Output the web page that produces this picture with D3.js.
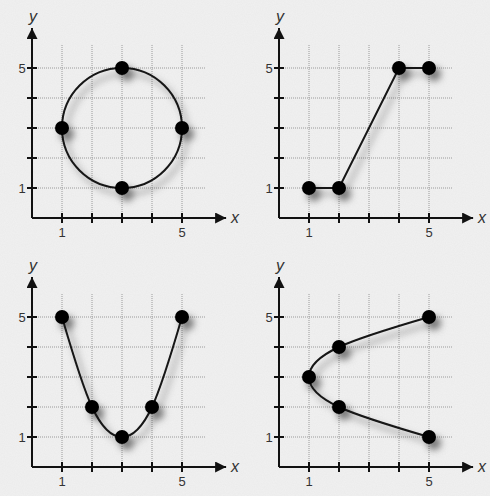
<!DOCTYPE html>
<html>
<head>
<meta charset="utf-8">
<script src="https://cdn.jsdelivr.net/npm/d3@7"></script>
<style>
  body { margin: 0; background: #f0f0f0; }
  svg { display: block; }
</style>
</head>
<body>
<div id="container"></div>
<script>
/* 1. DATA */
const tickValues = [1, 2, 3, 4, 5];
const tickLabels = ["1", "", "", "", "5"];

const circlePts = [{x: 3, y: 5}, {x: 5, y: 3}, {x: 3, y: 1}, {x: 1, y: 3}];
const stepPts = [{x: 1, y: 1}, {x: 2, y: 1}, {x: 4, y: 5}, {x: 5, y: 5}];
const parabolaPts = [{x: 1, y: 5}, {x: 2, y: 2}, {x: 3, y: 1}, {x: 4, y: 2}, {x: 5, y: 5}];
const sidewaysPts = [{x: 5, y: 5}, {x: 2, y: 4}, {x: 1, y: 3}, {x: 2, y: 2}, {x: 5, y: 1}];

/* 2. LAYOUT */
const width = 490, height = 496;
const unit = 30;
const gridMax = 5.77, xArrowMax = 6.47, yArrowMax = 6.33;

const panels = [
  {pts: circlePts,   curve: d3.curveCardinalClosed.tension(-0.657), ox: 32,  oy: 218},
  {pts: stepPts,     curve: d3.curveLinear,  ox: 279, oy: 218},
  {pts: parabolaPts, curve: d3.curveNatural, ox: 32,  oy: 467},
  {pts: sidewaysPts, curve: d3.curveNatural, ox: 279, oy: 467}
];

const xScale = d3.scaleLinear().domain([0, 1]).range([0, unit]);
const yScale = d3.scaleLinear().domain([0, 1]).range([0, -unit]);

const svg = d3.select("#container")
  .append("svg")
  .attr("width", width)
  .attr("height", height);

const defs = svg.append("defs");

// paper texture
const tex = defs.append("filter").attr("id", "paper")
  .attr("x", 0).attr("y", 0).attr("width", "100%").attr("height", "100%");
tex.append("feTurbulence").attr("type", "fractalNoise")
  .attr("baseFrequency", 0.9).attr("numOctaves", 2).attr("seed", 3).attr("result", "n");
tex.append("feColorMatrix").attr("type", "matrix")
  .attr("values", "0 0 0 0 0.5  0 0 0 0 0.5  0 0 0 0 0.5  0 0 0 0.12 0");

// soft drop shadow
const sh = defs.append("filter").attr("id", "shadow")
  .attr("x", "-30%").attr("y", "-30%").attr("width", "170%").attr("height", "170%");
sh.append("feDropShadow").attr("dx", 5).attr("dy", 6)
  .attr("stdDeviation", 3.5).attr("flood-color", "#000").attr("flood-opacity", 0.5);

defs.append("marker").attr("id", "arrow")
  .attr("viewBox", "0 0 10 10").attr("refX", 10).attr("refY", 5)
  .attr("markerWidth", 18).attr("markerHeight", 11)
  .attr("markerUnits", "userSpaceOnUse")
  .attr("orient", "auto")
  .append("path").attr("d", "M0,0 L10,5 L0,10 Z").attr("fill", "#111");

svg.append("rect").attr("width", width).attr("height", height).attr("fill", "#f1f1f1");
svg.append("rect").attr("width", width).attr("height", height).attr("filter", "url(#paper)");

/* 3. PANELS */
panels.forEach(p => {
  const g = svg.append("g").attr("transform", `translate(${p.ox},${p.oy})`);

  // dotted grid
  g.selectAll(".vgrid").data(tickValues).join("line")
    .attr("x1", d => xScale(d)).attr("x2", d => xScale(d))
    .attr("y1", 0).attr("y2", yScale(gridMax))
    .attr("stroke", "#9a9a9a").attr("stroke-width", 1).attr("stroke-dasharray", "1,1");
  g.selectAll(".hgrid").data(tickValues).join("line")
    .attr("y1", d => yScale(d)).attr("y2", d => yScale(d))
    .attr("x1", 0).attr("x2", xScale(gridMax))
    .attr("stroke", "#9a9a9a").attr("stroke-width", 1).attr("stroke-dasharray", "1,1");

  // axes with arrows
  g.append("line").attr("x1", 0).attr("y1", 0).attr("x2", xScale(xArrowMax)).attr("y2", 0)
    .attr("stroke", "#111").attr("stroke-width", 2).attr("marker-end", "url(#arrow)");
  g.append("line").attr("x1", 0).attr("y1", 0).attr("x2", 0).attr("y2", yScale(yArrowMax))
    .attr("stroke", "#111").attr("stroke-width", 2).attr("marker-end", "url(#arrow)");

  // ticks
  g.selectAll(".xt").data(tickValues).join("line")
    .attr("x1", d => xScale(d)).attr("x2", d => xScale(d))
    .attr("y1", -5).attr("y2", 5).attr("stroke", "#111").attr("stroke-width", 2);
  g.selectAll(".yt").data(tickValues).join("line")
    .attr("y1", d => yScale(d)).attr("y2", d => yScale(d))
    .attr("x1", -5).attr("x2", 5).attr("stroke", "#111").attr("stroke-width", 2);

  // tick labels
  g.selectAll(".xl").data(tickValues).join("text")
    .attr("x", d => xScale(d)).attr("y", 19)
    .attr("text-anchor", "middle")
    .attr("font-family", "Liberation Sans, Arial, sans-serif").attr("font-size", 13)
    .attr("fill", "#333")
    .text((d, i) => tickLabels[i]);
  g.selectAll(".yl").data(tickValues).join("text")
    .attr("x", -10).attr("y", d => yScale(d) + 4.5)
    .attr("text-anchor", "middle")
    .attr("font-family", "Liberation Sans, Arial, sans-serif").attr("font-size", 13)
    .attr("fill", "#333")
    .text((d, i) => tickLabels[i]);

  // axis names
  g.append("text").attr("x", xScale(xArrowMax) + 9).attr("y", 5)
    .attr("text-anchor", "middle").attr("font-style", "italic")
    .attr("font-family", "Liberation Sans, Arial, sans-serif").attr("font-size", 16)
    .attr("fill", "#333").text("x");
  g.append("text").attr("x", 1).attr("y", yScale(yArrowMax) - 6)
    .attr("text-anchor", "middle").attr("font-style", "italic")
    .attr("font-family", "Liberation Sans, Arial, sans-serif").attr("font-size", 16)
    .attr("fill", "#333").text("y");

  // curve and points
  const marks = g.append("g").attr("filter", "url(#shadow)");
  const line = d3.line().x(d => xScale(d.x)).y(d => yScale(d.y)).curve(p.curve);
  marks.append("path").datum(p.pts).attr("d", line)
    .attr("fill", "none").attr("stroke", "#151515").attr("stroke-width", 2);
  marks.selectAll("circle").data(p.pts).join("circle")
    .attr("cx", d => xScale(d.x)).attr("cy", d => yScale(d.y))
    .attr("r", 7).attr("fill", "#000");
});
</script>
</body>
</html>
